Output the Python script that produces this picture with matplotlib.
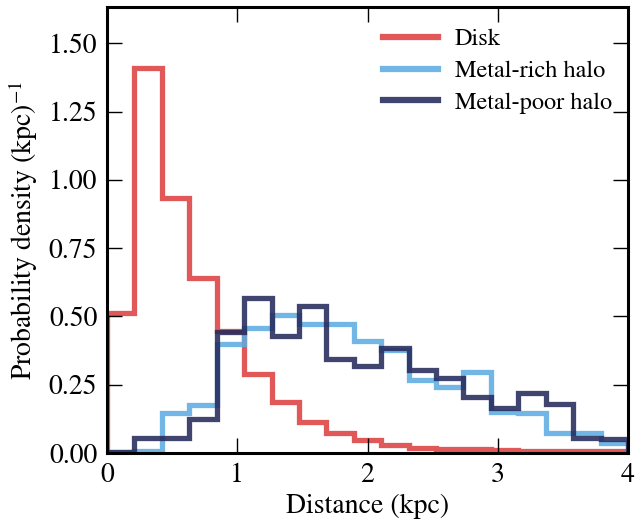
import numpy as np
import matplotlib
matplotlib.use("Agg")
import matplotlib.pyplot as plt

plt.rcParams['font.family'] = ['STIXGeneral', 'DejaVu Serif']
plt.rcParams['mathtext.fontset'] = 'stix'

# 19 equal bins between 0 and 4 kpc
bin_edges = np.linspace(0.0, 4.0, 20)

disk = [0.512, 1.410, 0.935, 0.639, 0.446, 0.290, 0.188, 0.112, 0.075, 0.046,
        0.030, 0.018, 0.016, 0.013, 0.011, 0.009, 0.008, 0.007, 0.006]
metal_rich = [0.005, 0.008, 0.145, 0.176, 0.399, 0.456, 0.505, 0.472, 0.472, 0.410,
              0.377, 0.267, 0.243, 0.298, 0.151, 0.145, 0.072, 0.072, 0.038]
metal_poor = [0.005, 0.054, 0.054, 0.123, 0.444, 0.568, 0.429, 0.539, 0.346, 0.320,
              0.385, 0.304, 0.276, 0.206, 0.163, 0.221, 0.179, 0.054, 0.050]

labels = ["Disk", "Metal-rich halo", "Metal-poor halo"]
colors = ["#dd3f3f", "#5cabe1", "#24295a"]

xticks = [0, 1, 2, 3, 4]
yticks = [0.00, 0.25, 0.50, 0.75, 1.00, 1.25, 1.50]

fig = plt.figure(figsize=(6.37, 5.22), dpi=100)
ax = fig.add_axes([107/637, 1-453/522, 521/637, 446/522])

for vals, lab, col in zip([disk, metal_rich, metal_poor], labels, colors):
    ax.stairs(vals, bin_edges, baseline=0, color=col, lw=3.8, alpha=0.87, label=lab)

ax.set_xlim(0, 4)
ax.set_ylim(0, 1.633)
ax.set_xticks(xticks)
ax.set_xticklabels([str(t) for t in xticks])
ax.set_yticks(yticks)
ax.set_yticklabels([f"{t:.2f}" for t in yticks])
ax.tick_params(direction='in', top=True, right=True, length=10.8, width=1.0,
               labelsize=20, pad=7)
for s in ax.spines.values():
    s.set_linewidth(2.2)

ax.set_xlabel("Distance (kpc)", fontsize=20, labelpad=4)
ax.set_ylabel(r"Probability density (kpc)$^{-1}$", fontsize=20, labelpad=6)

leg = ax.legend(loc='upper left', bbox_to_anchor=(0.53, 0.952), frameon=False,
                fontsize=17.5, handlelength=2.25, handletextpad=0.7,
                labelspacing=0.4, borderaxespad=0, borderpad=0)
for h in leg.get_lines():
    h.set_linewidth(4.5)

fig.savefig("out.png", dpi=100)
